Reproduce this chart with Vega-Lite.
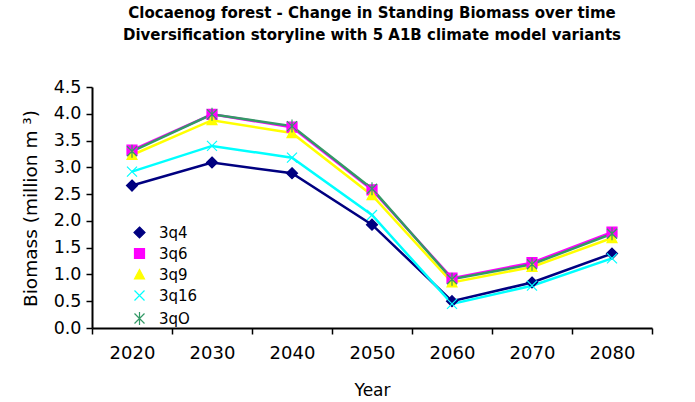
{
  "$schema": "https://vega.github.io/schema/vega-lite/v6.json",
  "width": 560,
  "height": 241,
  "autosize": {"type": "none"},
  "padding": {"left": 92, "top": 87, "right": 43, "bottom": 74},
  "background": "white",
  "config": {
    "view": {"stroke": null},
    "font": "DejaVu Sans",
    "axis": {"labelFont": "DejaVu Sans", "titleFont": "DejaVu Sans", "labelColor": "black", "titleColor": "black", "domainColor": "black", "tickColor": "black", "domainWidth": 2, "tickWidth": 1.5, "grid": false, "titleFontWeight": "normal"},
    "legend": {"orient": "none", "legendX": 40, "legendY": 138, "title": null, "padding": 0, "symbolSize": 100, "rowPadding": 5, "labelFontSize": 15, "labelFont": "DejaVu Sans", "labelColor": "black", "labelOffset": 12, "symbolStrokeWidth": 1.2, "symbolOpacity": 1}
  },
  "title": {
    "text": ["Clocaenog forest - Change in Standing Biomass over time", "Diversification storyline with 5 A1B climate model variants"],
    "font": "DejaVu Sans", "fontSize": 15, "fontWeight": "bold", "color": "black",
    "lineHeight": 22, "anchor": "middle", "frame": "group", "offset": 35
  },
  "data": {"values": [
    {"year": "2020", "series": "3q4", "value": 2.66},
    {"year": "2030", "series": "3q4", "value": 3.09},
    {"year": "2040", "series": "3q4", "value": 2.89},
    {"year": "2050", "series": "3q4", "value": 1.93},
    {"year": "2060", "series": "3q4", "value": 0.50},
    {"year": "2070", "series": "3q4", "value": 0.85},
    {"year": "2080", "series": "3q4", "value": 1.39},
    {"year": "2020", "series": "3q6", "value": 3.32},
    {"year": "2030", "series": "3q6", "value": 3.99},
    {"year": "2040", "series": "3q6", "value": 3.75},
    {"year": "2050", "series": "3q6", "value": 2.58},
    {"year": "2060", "series": "3q6", "value": 0.93},
    {"year": "2070", "series": "3q6", "value": 1.22},
    {"year": "2080", "series": "3q6", "value": 1.79},
    {"year": "2020", "series": "3q9", "value": 3.23},
    {"year": "2030", "series": "3q9", "value": 3.88},
    {"year": "2040", "series": "3q9", "value": 3.64},
    {"year": "2050", "series": "3q9", "value": 2.48},
    {"year": "2060", "series": "3q9", "value": 0.85},
    {"year": "2070", "series": "3q9", "value": 1.14},
    {"year": "2080", "series": "3q9", "value": 1.68},
    {"year": "2020", "series": "3q16", "value": 2.92},
    {"year": "2030", "series": "3q16", "value": 3.40},
    {"year": "2040", "series": "3q16", "value": 3.18},
    {"year": "2050", "series": "3q16", "value": 2.11},
    {"year": "2060", "series": "3q16", "value": 0.45},
    {"year": "2070", "series": "3q16", "value": 0.79},
    {"year": "2080", "series": "3q16", "value": 1.30},
    {"year": "2020", "series": "3qO", "value": 3.30},
    {"year": "2030", "series": "3qO", "value": 3.99},
    {"year": "2040", "series": "3qO", "value": 3.77},
    {"year": "2050", "series": "3qO", "value": 2.60},
    {"year": "2060", "series": "3qO", "value": 0.91},
    {"year": "2070", "series": "3qO", "value": 1.19},
    {"year": "2080", "series": "3qO", "value": 1.76}
  ]},
  "encoding": {
    "x": {
      "field": "year", "type": "ordinal",
      "scale": {"type": "band", "paddingInner": 0, "paddingOuter": 0},
      "axis": {"title": "Year", "labelAngle": 0, "labelFontSize": 18, "titleFontSize": 17, "tickBand": "extent", "tickSize": 6, "labelPadding": 10, "titleY": 67, "titleBaseline": "alphabetic"}
    },
    "y": {
      "field": "value", "type": "quantitative",
      "scale": {"domain": [0, 4.5], "nice": false, "zero": true},
      "axis": {"title": "Biomass (million m ³)", "values": [0, 0.5, 1, 1.5, 2, 2.5, 3, 3.5, 4, 4.5], "format": ".1f", "labelFontSize": 17.5, "titleFontSize": 18.5, "tickSize": 6, "labelPadding": 5, "titleX": -56, "titleY": 121, "titleAlign": "center", "titleBaseline": "alphabetic", "titleAngle": -90}
    }
  },
  "layer": [
    {
      "mark": {"type": "line", "strokeWidth": 2.5},
      "encoding": {
        "stroke": {"field": "series", "type": "nominal",
          "scale": {"domain": ["3q4", "3q6", "3q9", "3q16", "3qO"], "range": ["#000080", "#FF00FF", "#FFFF00", "#00FFFF", "#339966"]}},
        "order": {"field": "year"}
      }
    },
    {
      "mark": {"type": "point", "filled": true, "opacity": 1, "size": 100, "strokeWidth": 1.2},
      "encoding": {
        "color": {"field": "series", "type": "nominal",
          "scale": {"domain": ["3q4", "3q6", "3q9", "3q16", "3qO"], "range": ["#000080", "#FF00FF", "#FFFF00", "#00FFFF", "#339966"]}},
        "stroke": {"field": "series", "type": "nominal",
          "scale": {"domain": ["3q4", "3q6", "3q9", "3q16", "3qO"], "range": ["#000080", "#FF00FF", "#FFFF00", "#00FFFF", "#339966"]}},
        "shape": {"field": "series", "type": "nominal",
          "scale": {"domain": ["3q4", "3q6", "3q9", "3q16", "3qO"], "range": ["M0,-1.1L1.1,0L0,1.1L-1.1,0Z", "M-1,-1H1V1H-1Z", "M0,-1L1,0.9H-1Z", "M-1,-1L1,1M-1,1L1,-1", "M-1,-1L1,1M-1,1L1,-1M0,-1.3V1.3"]}}
      }
    }
  ]
}
